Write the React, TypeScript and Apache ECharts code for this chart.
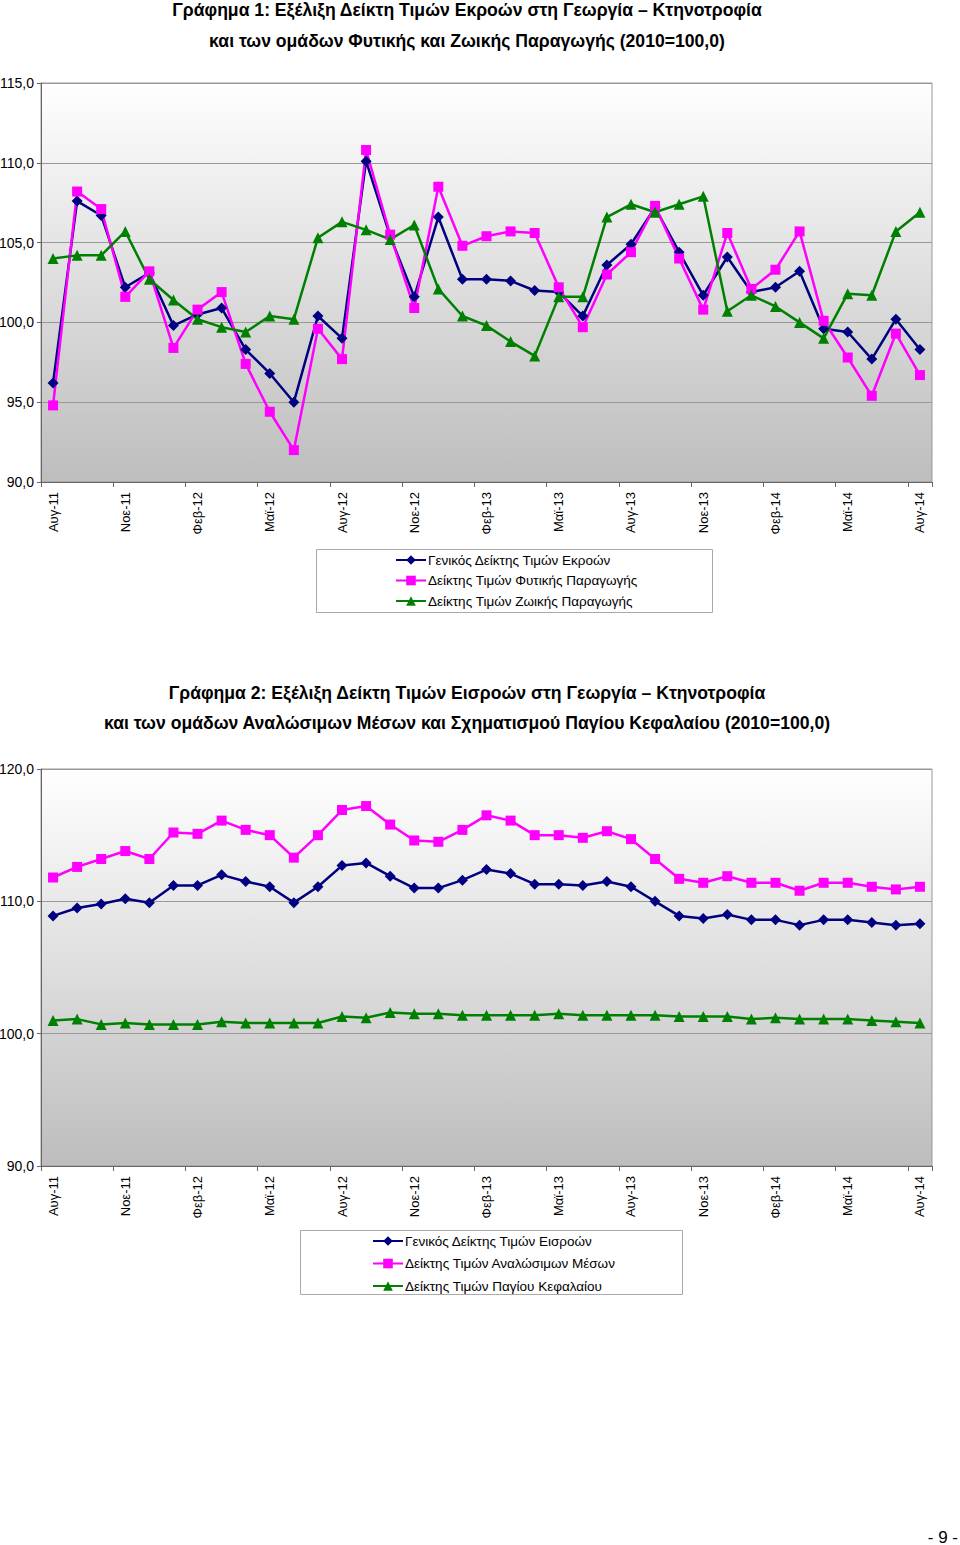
import React, { useEffect, useRef } from "react";
import * as echarts from "echarts";

const months = ["Αυγ-11","Σεπ-11","Οκτ-11","Νοε-11","Δεκ-11","Ιαν-12","Φεβ-12","Μαρ-12","Απρ-12","Μαϊ-12","Ιουν-12","Ιουλ-12","Αυγ-12","Σεπ-12","Οκτ-12","Νοε-12","Δεκ-12","Ιαν-13","Φεβ-13","Μαρ-13","Απρ-13","Μαϊ-13","Ιουν-13","Ιουλ-13","Αυγ-13","Σεπ-13","Οκτ-13","Νοε-13","Δεκ-13","Ιαν-14","Φεβ-14","Μαρ-14","Απρ-14","Μαϊ-14","Ιουν-14","Ιουλ-14","Αυγ-14"];

// Chart 1
const outputIndex = [96.2,107.6,106.7,102.2,103.1,99.8,100.5,100.9,98.3,96.8,95.0,100.4,99.0,110.1,105.4,101.6,106.6,102.7,102.7,102.6,102.0,101.9,100.4,103.6,104.9,107.2,104.4,101.7,104.1,101.9,102.2,103.2,99.6,99.4,97.7,100.2,98.3];
const cropIndex = [94.8,108.2,107.1,101.6,103.2,98.4,100.8,101.9,97.4,94.4,92.0,99.6,97.7,110.8,105.5,100.9,108.5,104.8,105.4,105.7,105.6,102.2,99.7,103.0,104.4,107.3,104.0,100.8,105.6,102.1,103.3,105.7,100.1,97.8,95.4,99.3,96.7];
const animalIndex = [104.0,104.2,104.2,105.7,102.7,101.4,100.2,99.7,99.4,100.4,100.2,105.3,106.3,105.8,105.2,106.1,102.1,100.4,99.8,98.8,97.9,101.6,101.6,106.6,107.4,106.9,107.4,107.9,100.7,101.7,101.0,100.0,99.0,101.8,101.7,105.7,106.9];

// Chart 2
const inputIndex = [108.9,109.5,109.8,110.2,109.9,111.2,111.2,112.0,111.5,111.1,109.9,111.1,112.7,112.9,111.9,111.0,111.0,111.6,112.4,112.1,111.3,111.3,111.2,111.5,111.1,110.0,108.9,108.7,109.0,108.6,108.6,108.2,108.6,108.6,108.4,108.2,108.3];
const consumablesIndex = [111.8,112.6,113.2,113.8,113.2,115.2,115.1,116.1,115.4,115.0,113.3,115.0,116.9,117.2,115.8,114.6,114.5,115.4,116.5,116.1,115.0,115.0,114.8,115.3,114.7,113.2,111.7,111.4,111.9,111.4,111.4,110.8,111.4,111.4,111.1,110.9,111.1];
const capitalIndex = [101.0,101.1,100.7,100.8,100.7,100.7,100.7,100.9,100.8,100.8,100.8,100.8,101.3,101.2,101.6,101.5,101.5,101.4,101.4,101.4,101.4,101.5,101.4,101.4,101.4,101.4,101.3,101.3,101.3,101.1,101.2,101.1,101.1,101.1,101.0,100.9,100.8];

const names1 = ["Γενικός Δείκτης Τιμών Εκροών", "Δείκτης Τιμών Φυτικής Παραγωγής", "Δείκτης Τιμών Ζωικής Παραγωγής"];
const names2 = ["Γενικός Δείκτης Τιμών Εισροών", "Δείκτης Τιμών Αναλώσιμων Μέσων", "Δείκτης Τιμών Παγίου Κεφαλαίου"];

const FONT = "Liberation Sans, Arial, sans-serif";
const NAVY = "#000080";
const PINK = "#FF00FF";
const GREEN = "#008000";

function App() {
  const ref = useRef<HTMLDivElement>(null);
  useEffect(() => {
    if (!ref.current) return;
    const chart = echarts.init(ref.current, null, { renderer: "svg" });
    const bg = () =>
      new echarts.graphic.LinearGradient(0, 0, 0, 1, [
        { offset: 0, color: "#ffffff" },
        { offset: 1, color: "#bdbdbd" },
      ]);
    const fmt = (v: number) => v.toFixed(1).replace(".", ",");
    const xAxis = (gridIndex: number) => ({
      type: "category",
      gridIndex,
      data: months,
      boundaryGap: true,
      axisLine: { lineStyle: { color: "#666", width: 1 } },
      axisTick: { show: true, interval: 2, length: 5, lineStyle: { color: "#666" } },
      axisLabel: { interval: 2, rotate: 90, color: "#000", fontSize: 13, fontFamily: FONT, margin: 10 },
    });
    const yAxis = (gridIndex: number, min: number, max: number, interval: number) => ({
      type: "value",
      gridIndex,
      min,
      max,
      interval,
      axisLine: { show: true, lineStyle: { color: "#666", width: 1 } },
      axisTick: { show: true, length: 4, lineStyle: { color: "#666" } },
      axisLabel: { color: "#000", fontSize: 14, fontFamily: FONT, margin: 7, formatter: fmt },
      splitLine: { show: true, lineStyle: { color: "#999", width: 1 } },
    });
    const line = (name: string, data: number[], color: string, symbol: string, size: number, idx: number) => ({
      type: "line",
      name,
      data,
      xAxisIndex: idx,
      yAxisIndex: idx,
      symbol,
      symbolSize: size,
      showAllSymbol: true,
      lineStyle: { color, width: 2.5 },
      itemStyle: { color },
      z: 3,
    });
    const titleText = (y: number, text: string) => ({
      type: "text",
      x: 467,
      y,
      style: { text, fill: "#000", font: `bold 17.6px ${FONT}`, textAlign: "center", textVerticalAlign: "middle" },
    });
    chart.setOption({
      animation: false,
      backgroundColor: "#fff",
      grid: [
        { left: 41, top: 83, right: 28, height: 399, show: true, backgroundColor: bg(), borderColor: "#999", borderWidth: 1, containLabel: false, outerBoundsMode: "none" },
        { left: 41, top: 769, right: 28, height: 397, show: true, backgroundColor: bg(), borderColor: "#999", borderWidth: 1, containLabel: false, outerBoundsMode: "none" },
      ],
      xAxis: [xAxis(0), xAxis(1)],
      yAxis: [yAxis(0, 90, 115, 5), yAxis(1, 90, 120, 10)],
      legend: [
        {
          data: names1, orient: "vertical", left: 395, top: 553, itemWidth: 30, itemHeight: 12, itemGap: 6.5, padding: 0,
          textStyle: { fontSize: 13.5, fontFamily: FONT, color: "#000", padding: [0, 0, 0, -3] },
        },
        {
          data: names2, orient: "vertical", left: 372, top: 1234, itemWidth: 30, itemHeight: 12, itemGap: 8.5, padding: 0,
          textStyle: { fontSize: 13.5, fontFamily: FONT, color: "#000", padding: [0, 0, 0, -3] },
        },
      ],
      graphic: [
        titleText(10, "Γράφημα 1: Εξέλιξη Δείκτη Τιμών Εκροών στη Γεωργία – Κτηνοτροφία"),
        titleText(41, "και των ομάδων Φυτικής και Ζωικής Παραγωγής (2010=100,0)"),
        titleText(693, "Γράφημα 2: Εξέλιξη Δείκτη Τιμών Εισροών στη Γεωργία – Κτηνοτροφία"),
        titleText(723, "και των ομάδων Αναλώσιμων Μέσων και Σχηματισμού Παγίου Κεφαλαίου (2010=100,0)"),
        { type: "rect", z: 0, shape: { x: 316.5, y: 549.5, width: 396, height: 63 }, style: { fill: "#fff", stroke: "#aaa", lineWidth: 1 } },
        { type: "rect", z: 0, shape: { x: 300.5, y: 1230.5, width: 382, height: 64 }, style: { fill: "#fff", stroke: "#aaa", lineWidth: 1 } },
        { type: "text", x: 958, y: 1537, style: { text: "- 9 -", fill: "#000", font: `17px ${FONT}`, textAlign: "right", textVerticalAlign: "middle" } },
      ],
      series: [
        line(names1[0], outputIndex, NAVY, "diamond", 11, 0),
        line(names1[1], cropIndex, PINK, "rect", 10, 0),
        line(names1[2], animalIndex, GREEN, "triangle", 11, 0),
        line(names2[0], inputIndex, NAVY, "diamond", 11, 1),
        line(names2[1], consumablesIndex, PINK, "rect", 10, 1),
        line(names2[2], capitalIndex, GREEN, "triangle", 11, 1),
      ],
    });
    return () => chart.dispose();
  }, []);
  return <div ref={ref} style={{ position: "absolute", left: 0, top: 0, width: 960, height: 1545 }} />;
}

export default App;
